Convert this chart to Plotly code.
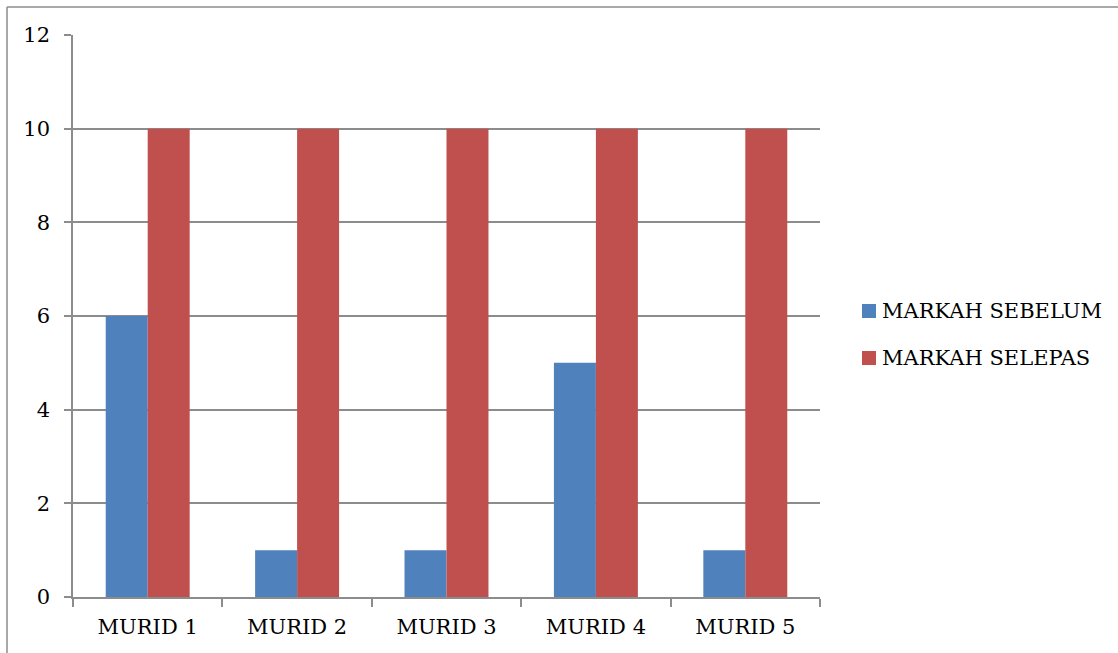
import plotly.graph_objects as go

# Student marks before and after
categories = ["MURID 1", "MURID 2", "MURID 3", "MURID 4", "MURID 5"]
series_names = ["MARKAH SEBELUM", "MARKAH SELEPAS"]
markah_sebelum = [6, 1, 1, 5, 1]
markah_selepas = [10, 10, 10, 10, 10]
y_ticks = [0, 2, 4, 6, 8, 10, 12]

colors = ["#4F81BD", "#C0504D"]
font_family = "DejaVu Serif, Liberation Serif, serif"
font_size = 21
grey = "#8c8c8c"

W, H = 1118, 653
L, R, T, B = 73, 298, 35, 56
pw, ph = W - L - R, H - T - B


def px_x(x):
    return (x - L) / pw


def px_y(y):
    return (H - B - y) / ph


fig = go.Figure()
for name, vals, col in zip(series_names, [markah_sebelum, markah_selepas], colors):
    fig.add_trace(go.Bar(x=categories, y=vals, name=name, marker=dict(color=col, line=dict(width=0)),
                         showlegend=False))

# frame around the chart object
fig.add_shape(type="line", xref="paper", yref="paper", x0=px_x(7), x1=px_x(W + 5),
              y0=px_y(7), y1=px_y(7), line=dict(color=grey, width=1.5))
fig.add_shape(type="line", xref="paper", yref="paper", x0=px_x(7), x1=px_x(7),
              y0=px_y(7), y1=px_y(H + 5), line=dict(color=grey, width=1.5))

# legend drawn as swatches and labels
for i, (name, col) in enumerate(zip(series_names, colors)):
    cy = 311 + i * 47
    fig.add_shape(type="rect", xref="paper", yref="paper",
                  x0=px_x(862), x1=px_x(876), y0=px_y(cy - 7), y1=px_y(cy + 7),
                  fillcolor=col, line=dict(width=0))
    fig.add_annotation(xref="paper", yref="paper", x=px_x(880), y=px_y(cy),
                       xanchor="left", yanchor="middle", text=name, showarrow=False,
                       font=dict(family=font_family, size=font_size, color="#000"))

fig.update_layout(
    width=W, height=H,
    margin=dict(l=L, r=R, t=T, b=B, pad=0),
    paper_bgcolor="white", plot_bgcolor="white",
    barmode="group", bargap=0.438, bargroupgap=0,
    font=dict(family=font_family, size=font_size, color="#000"),
)
fig.update_xaxes(showline=True, linecolor=grey, linewidth=1.5, showgrid=False,
                 ticks="outside", tickson="boundaries", ticklen=8, tickcolor=grey, tickwidth=1.5,
                 tickfont=dict(family=font_family, size=font_size, color="#000"), ticklabelstandoff=10)
fig.update_yaxes(range=[0, 12], tickvals=y_ticks, showline=True, linecolor=grey, linewidth=1.5,
                 showgrid=True, gridcolor=grey, gridwidth=1.5, zeroline=False,
                 ticks="outside", ticklen=7, tickcolor=grey, tickwidth=1.5,
                 tickfont=dict(family=font_family, size=font_size, color="#000"), ticklabelstandoff=10)

fig.write_html("out.html")
